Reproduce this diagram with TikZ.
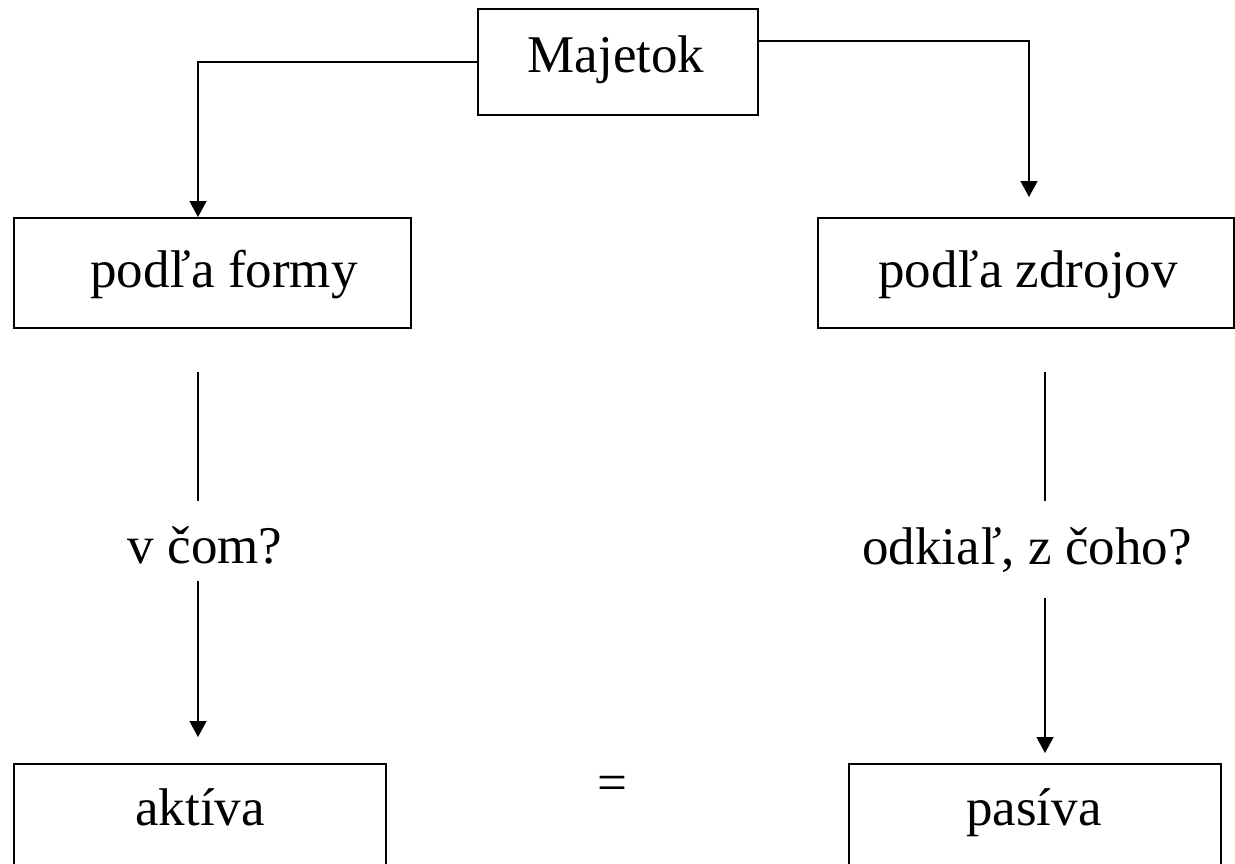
\documentclass[tikz,border=0pt]{standalone}
\usepackage{fontspec}
\setmainfont{Liberation Serif}
\usetikzlibrary{arrows.meta}
\begin{document}
\begin{tikzpicture}[x=1pt,y=1pt,
  boxnode/.style={draw,line width=1.6pt,inner sep=0pt,anchor=north west},
  txt/.style={inner sep=0pt,anchor=base,font=\fontsize{53}{60}\selectfont},
  conn/.style={line width=1.5pt},
  arr/.style={conn,-{Triangle[width=17pt,length=16pt]}}]
\useasboundingbox (0,0) rectangle (1235,-863);
\clip (0,0) rectangle (1235,-863);
% boxes
\node[boxnode,minimum width=280pt,minimum height=106pt] (maj) at (477,-8) {};
\node[boxnode,minimum width=397pt,minimum height=110pt] (forma) at (13,-217) {};
\node[boxnode,minimum width=416pt,minimum height=110pt] (zdroj) at (817,-217) {};
\node[boxnode,minimum width=372pt,minimum height=140pt] (akt) at (13,-763) {};
\node[boxnode,minimum width=372pt,minimum height=140pt] (pas) at (848,-763) {};
% texts
\node[txt] (tmaj) at (616,-72) {Majetok};
\node[txt] (tforma) at (224,-287) {podľa formy};
\node[txt] (tzdroj) at (1028,-287) {podľa zdrojov};
\node[txt] (qforma) at (205,-563) {v čom?};
\node[txt] (qzdroj) at (1027,-564) {odkiaľ, z čoho?};
\node[txt] (takt) at (200,-825) {aktíva};
\node[txt] (tpas) at (1034,-825) {pasíva};
\node[txt] (eq) at (612,-800) {=};
% connector points
\coordinate (lstart) at (477,-62);
\coordinate (rstart) at (757,-41);
\coordinate (ltip) at (198,-217);
\coordinate (rtip) at (1029,-197);
\coordinate (a1) at (198,-372);
\coordinate (a2) at (198,-501);
\coordinate (a3) at (198,-581);
\coordinate (a4) at (198,-737);
\coordinate (b1) at (1045,-372);
\coordinate (b2) at (1045,-501);
\coordinate (b3) at (1045,-598);
\coordinate (b4) at (1045,-753);
% connectors
\draw[arr] (lstart) -| (ltip);
\draw[arr] (rstart) -| (rtip);
\draw[conn] (a1) -- (a2);
\draw[arr] (a3) -- (a4);
\draw[conn] (b1) -- (b2);
\draw[arr] (b3) -- (b4);
\end{tikzpicture}
\end{document}
